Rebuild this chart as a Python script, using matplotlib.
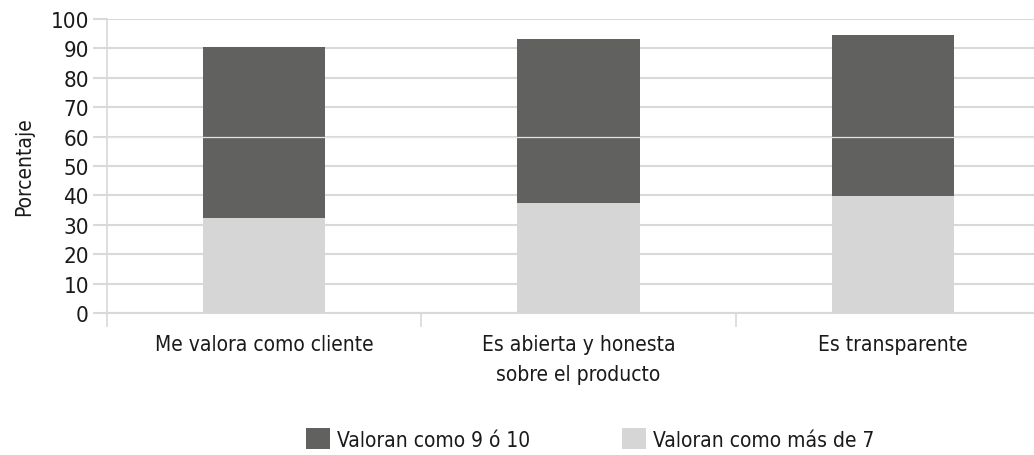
import matplotlib
matplotlib.use("Agg")
import matplotlib.pyplot as plt
from matplotlib import font_manager as fm
import numpy as np

# pick a condensed sans font if installed (reference uses a condensed face)
cond = None
for f in fm.fontManager.ttflist:
    nm = f.name.lower()
    st = str(f.stretch).lower()
    if f.style == 'normal' and f.weight in (400, 'normal', 'regular') and (
            'condensed' in st or 'narrow' in nm or 'condensed' in nm or 'narrow' in f.fname.lower()
            or 'condensed' in f.fname.lower()):
        if 'mono' in nm or 'serif' in nm and 'sans' not in nm:
            continue
        cond = f
        break
if cond is not None:
    plt.rcParams['font.family'] = [cond.name, 'DejaVu Sans']
    plt.rcParams['font.stretch'] = cond.stretch
    FS = 15
else:
    plt.rcParams['font.family'] = ['Liberation Sans', 'DejaVu Sans']
    FS = 14

categories = ["Me valora como cliente", "Es abierta y honesta\nsobre el producto", "Es transparente"]
mas_de_7 = [32.2, 37.3, 39.9]
total_9_10 = [90.4, 93.2, 94.6]
series_names = ["Valoran como 9 ó 10", "Valoran como más de 7"]
yticks = list(range(0, 101, 10))

dark = "#616160"
light = "#d6d6d6"
grid = "#d9d9d9"
text = "#1a1a1a"

top_part = [t - b for t, b in zip(total_9_10, mas_de_7)]

W, H = 1034, 456
fig = plt.figure(figsize=(W / 100, H / 100), dpi=100)
left, right, top, bottom = 107, 1050, 20, 314
ax = fig.add_axes([left / W, 1 - bottom / H, (right - left) / W, (bottom - top) / H])

x = np.arange(len(categories))
ax.bar(x, mas_de_7, width=0.39, color=light, zorder=3, label=series_names[1])
ax.bar(x, top_part, bottom=mas_de_7, width=0.39, color=dark, zorder=3, label=series_names[0])
ax.axhline(60, color="#e4e4e4", lw=0.9, zorder=4)

ax.set_xlim(-0.5, len(categories) - 0.5)
ax.set_ylim(0, 100)
ax.set_yticks(yticks)
ax.set_yticklabels([str(v) for v in yticks], fontsize=FS + 1, color=text)
ax.yaxis.grid(True, color=grid, lw=1.5, zorder=0)
ax.tick_params(axis='y', length=10, color=grid, width=1.5, pad=3)

ax.set_xticks(x)
ax.set_xticklabels(categories, fontsize=FS, color=text, linespacing=1.66)
ax.set_xticks(np.arange(-0.5, len(categories)), minor=True)
ax.tick_params(axis='x', which='major', length=0, pad=15)
ax.tick_params(axis='x', which='minor', length=10, color=grid, width=1.2)

for s in ['top', 'right']:
    ax.spines[s].set_visible(False)
ax.spines['left'].set_color(grid)
ax.spines['left'].set_linewidth(1.2)
ax.spines['left'].set_bounds(0, 100)
ax.spines['bottom'].set_color(grid)
ax.spines['bottom'].set_linewidth(1.5)

ax.set_ylabel("Porcentaje", fontsize=FS, color=text, labelpad=12)

h, l = ax.get_legend_handles_labels()
fig.legend([h[1], h[0]], [l[1], l[0]], loc='center', bbox_to_anchor=(590 / W, 1 - 440 / H),
           ncol=2, frameon=False, fontsize=FS, handlelength=1.15, handleheight=1.15,
           columnspacing=4.4, handletextpad=0.34, labelcolor=text)

fig.savefig("out.png", dpi=100)
